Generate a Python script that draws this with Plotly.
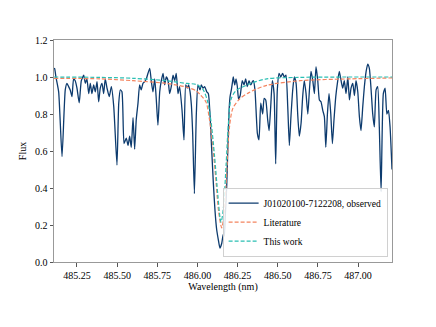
import plotly.graph_objects as go

# observed spectrum
wl_obs = [485.107, 485.111, 485.119, 485.136, 485.157, 485.177, 485.188, 485.198, 485.208, 485.219,
          485.229, 485.239, 485.250, 485.264, 485.277, 485.292, 485.302, 485.312, 485.323, 485.333,
          485.343, 485.354, 485.364, 485.375, 485.385, 485.395, 485.406, 485.416, 485.426, 485.437,
          485.451, 485.464, 485.479, 485.499, 485.510, 485.520, 485.530, 485.543, 485.557, 485.568,
          485.578, 485.588, 485.599, 485.609, 485.619, 485.630, 485.640, 485.650, 485.661, 485.672,
          485.682, 485.692, 485.703, 485.713, 485.723, 485.734, 485.744, 485.754, 485.765, 485.775,
          485.786, 485.796, 485.806, 485.817, 485.827, 485.837, 485.848, 485.858, 485.868, 485.879,
          485.889, 485.904, 485.916, 485.927, 485.937, 485.945, 485.954, 485.962, 485.970, 485.981,
          485.993, 486.003, 486.016, 486.024, 486.035, 486.045, 486.058, 486.068, 486.078, 486.089,
          486.099, 486.109, 486.120, 486.130, 486.140, 486.151, 486.161, 486.167, 486.173, 486.182,
          486.190, 486.197, 486.203, 486.211, 486.217, 486.223, 486.232, 486.240, 486.248, 486.256,
          486.266, 486.279, 486.290, 486.300, 486.310, 486.321, 486.332, 486.342, 486.348, 486.358,
          486.373, 486.383, 486.394, 486.406, 486.415, 486.425, 486.437, 486.446, 486.456, 486.466,
          486.477, 486.487, 486.497, 486.508, 486.518, 486.530, 486.541, 486.551, 486.562, 486.572,
          486.582, 486.593, 486.603, 486.614, 486.624, 486.634, 486.645, 486.655, 486.665, 486.676,
          486.687, 486.697, 486.707, 486.718, 486.728, 486.738, 486.749, 486.759, 486.769, 486.780,
          486.790, 486.799, 486.809, 486.819, 486.830, 486.840, 486.850, 486.861, 486.871, 486.883,
          486.894, 486.904, 486.914, 486.925, 486.936, 486.946, 486.956, 486.967, 486.977, 486.987,
          486.998, 487.008, 487.018, 487.029, 487.039, 487.050, 487.060, 487.070, 487.081, 487.091,
          487.101, 487.112, 487.122, 487.132, 487.143, 487.157, 487.168, 487.179, 487.189, 487.199,
          487.211]
flux_obs = [1.047, 1.045, 1.00, 0.92, 0.57, 0.93, 0.966, 0.948, 0.93, 0.894,
            0.99, 0.98, 0.94, 0.86, 0.98, 1.01, 0.966, 0.99, 0.91, 0.966,
            0.91, 0.957, 0.92, 0.975, 0.866, 0.94, 0.966, 0.91, 0.99, 0.94,
            0.894, 0.948, 0.84, 0.524, 0.858, 0.93, 0.92, 0.64, 0.67, 0.63,
            0.68, 0.62, 0.78, 0.61, 0.77, 0.86, 0.957, 0.93, 0.966, 0.975,
            0.99, 1.02, 1.047, 0.975, 0.92, 0.99, 0.876, 0.74, 0.92, 0.98,
            1.02, 0.957, 1.0, 0.98, 0.91, 0.948, 1.01, 0.98, 1.02, 0.91,
            0.948, 0.82, 0.66, 0.957, 0.94, 0.957, 0.92, 0.85, 0.70, 0.37,
            0.80, 0.957, 0.93, 0.957, 0.94, 0.948, 0.92, 0.91, 0.80, 0.60,
            0.425, 0.28, 0.173, 0.12, 0.075, 0.10, 0.15, 0.14, 0.245, 0.407,
            0.64, 0.82, 0.894, 0.93, 0.966, 1.0, 0.957, 0.99, 0.95, 0.88,
            0.90, 0.98, 0.957, 0.99, 0.948, 0.98, 0.957, 0.975, 0.98, 0.93,
            0.695, 0.66, 0.858, 0.80, 0.885, 0.876, 0.77, 0.71, 0.84, 0.98,
            0.91, 0.53, 0.93, 1.02, 1.0, 1.02, 1.0, 1.01, 0.84, 0.63,
            0.786, 0.93, 1.0, 0.966, 0.80, 0.68, 0.75, 0.894, 0.98, 0.91,
            0.80, 0.93, 1.03, 0.98, 0.91, 1.056, 0.98, 0.876, 0.866, 0.82,
            0.786, 0.62, 0.80, 0.91, 0.80, 0.64, 0.77, 0.894, 0.966, 1.03,
            0.98, 0.94, 0.98, 0.91, 1.0, 0.876, 0.94, 0.966, 0.90, 0.98,
            0.92, 0.786, 0.71, 0.84, 0.948, 1.03, 1.07, 1.047, 0.93, 0.80,
            0.73, 0.93, 0.948, 0.73, 0.38, 0.91, 0.94, 0.80, 0.82, 0.73,
            0.50]

# literature model profile
wl_lit = [485.107, 485.393, 485.599, 485.809, 485.933, 485.991, 486.022, 486.053, 486.074, 486.095,
          486.116, 486.132, 486.151, 486.167, 486.182, 486.198, 486.220, 486.261, 486.323, 486.431,
          486.639, 486.950, 487.211]
flux_lit = [0.993, 0.99, 0.98, 0.965, 0.945, 0.926, 0.90, 0.865, 0.775, 0.63,
            0.43, 0.27, 0.185, 0.27, 0.485, 0.72, 0.83, 0.88, 0.917, 0.955,
            0.98, 0.99, 0.995]

# this work model profile
wl_tw = [485.107, 485.393, 485.599, 485.809, 485.933, 485.991, 486.033, 486.064, 486.085, 486.106,
         486.127, 486.141, 486.147, 486.161, 486.178, 486.192, 486.209, 486.240, 486.323, 486.431,
         486.639, 487.211]
flux_tw = [1.0, 0.998, 0.993, 0.98, 0.965, 0.96, 0.935, 0.865, 0.755, 0.575,
           0.36, 0.235, 0.215, 0.287, 0.52, 0.74, 0.88, 0.926, 0.962, 0.99,
           0.998, 1.0]

x_ticks = [485.25, 485.50, 485.75, 486.00, 486.25, 486.50, 486.75, 487.00]
y_ticks = [0.0, 0.2, 0.4, 0.6, 0.8, 1.0, 1.2]

serif = "Liberation Serif"

fig = go.Figure()
fig.add_trace(go.Scatter(x=wl_obs, y=flux_obs, mode="lines",
                         name="J01020100-7122208, observed",
                         line=dict(color="#0d3b6e", width=1.3, shape="spline", smoothing=0.5)))
fig.add_trace(go.Scatter(x=wl_lit, y=flux_lit, mode="lines", name="Literature",
                         line=dict(color="#f4845f", width=1.2, dash="4px,2px", shape="spline", smoothing=0.8)))
fig.add_trace(go.Scatter(x=wl_tw, y=flux_tw, mode="lines", name="This work",
                         line=dict(color="#2bbfb3", width=1.2, dash="4px,2px", shape="spline", smoothing=0.8)))

axis_style = dict(showgrid=False, zeroline=False, showline=True, mirror=True,
                  linecolor="#999999", linewidth=1, ticks="outside", ticklen=3.5,
                  tickcolor="#555555", tickwidth=0.8,
                  tickfont=dict(family=serif, size=10, color="black"))

fig.update_xaxes(range=[485.107, 487.211], tickvals=x_ticks,
                 ticktext=["%.2f" % v for v in x_ticks],
                 title=dict(text="Wavelength (nm)", font=dict(family=serif, size=10, color="black"), standoff=2),
                 **axis_style)
fig.update_yaxes(range=[0, 1.2], tickvals=y_ticks,
                 ticktext=["%.1f" % v for v in y_ticks],
                 title=dict(text="Flux", font=dict(family=serif, size=10, color="black"), standoff=6),
                 **axis_style)

# the page body has an 8px margin, so the figure is shrunk by that much
fig.update_layout(
    width=428, height=319,
    margin=dict(l=46, r=44, t=32, b=65),
    plot_bgcolor="white", paper_bgcolor="white",
    font=dict(family=serif, size=10, color="black"),
    legend=dict(x=0.987, y=0.024, xanchor="right", yanchor="bottom",
                bgcolor="rgba(255,255,255,0.85)", bordercolor="#d0d0d0", borderwidth=1,
                font=dict(family=serif, size=9.5, color="black"),
                tracegroupgap=0, itemwidth=30),
    showlegend=True,
)

fig.write_html("out.html")
